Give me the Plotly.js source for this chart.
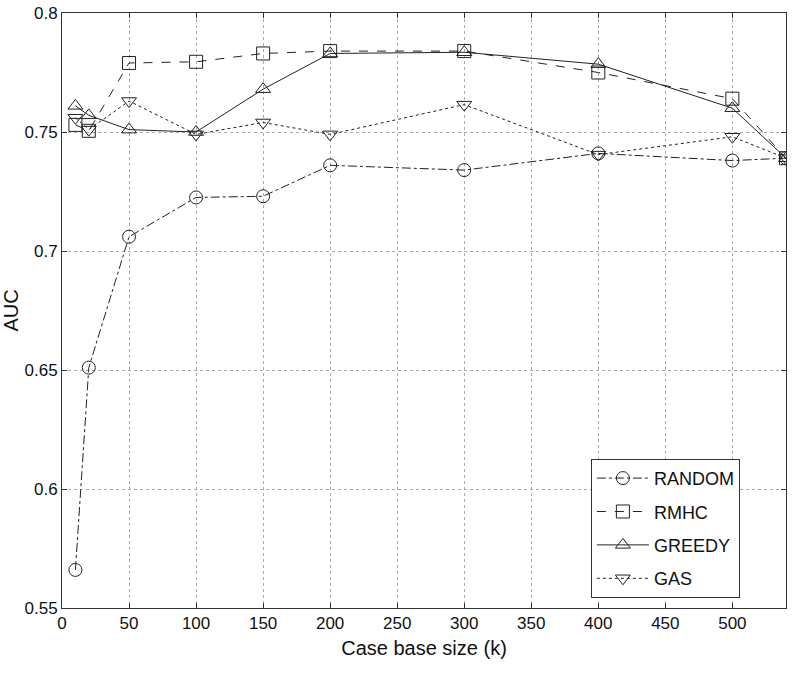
<!DOCTYPE html>
<html>
<head>
<meta charset="utf-8">
<script src="https://cdn.plot.ly/plotly-3.0.1.min.js"></script>
<style>html,body{margin:0;padding:0;background:#fff;}#chart{width:800px;height:673px;}</style>
</head>
<body>
<div id="chart"></div>
<script>
const caseBaseSize = [10, 20, 50, 100, 150, 200, 300, 400, 500, 540];
const randomAUC = [0.566, 0.651, 0.706, 0.7225, 0.723, 0.736, 0.734, 0.741, 0.738, 0.739];
const rmhcAUC   = [0.753, 0.7505, 0.779, 0.7795, 0.783, 0.784, 0.784, 0.775, 0.764, 0.739];
const greedyAUC = [0.761, 0.757, 0.751, 0.750, 0.768, 0.783, 0.7835, 0.7785, 0.760, 0.739];
const gasAUC    = [0.756, 0.751, 0.763, 0.749, 0.754, 0.749, 0.7615, 0.7405, 0.748, 0.739];
const seriesNames = ["RANDOM", "RMHC", "GREEDY", "GAS"];
const yTicks = [0.55, 0.6, 0.65, 0.7, 0.75, 0.8];
const yTickText = ["0.55", "0.6", "0.65", "0.7", "0.75", "0.8"];
const xTicks = [0, 50, 100, 150, 200, 250, 300, 350, 400, 450, 500];

const ink = "#222";
const fam = "Liberation Sans, Arial, sans-serif";
function mk(name, y, dash, sym) {
  return {
    x: caseBaseSize, y: y, name: name, type: "scatter", mode: "lines+markers",
    legendgroup: name,
    line: {color: ink, width: 1, dash: dash},
    marker: {symbol: sym, size: 13, color: ink, line: {width: 1, color: ink}}
  };
}
const data = [
  mk(seriesNames[0], randomAUC, "dashdot", "circle-open"),
  mk(seriesNames[1], rmhcAUC, "dash", "square-open"),
  mk(seriesNames[2], greedyAUC, "solid", "triangle-up-open"),
  mk(seriesNames[3], gasAUC, "dot", "triangle-down-open")
];
const axisCommon = {
  showline: true, linecolor: "#333", linewidth: 1, mirror: "ticks",
  ticks: "inside", ticklen: 5, tickcolor: "#333",
  showgrid: true, gridcolor: "#aaa", griddash: "dot", gridwidth: 1,
  zeroline: false, tickfont: {family: fam, size: 17, color: "#111"}
};
const layout = {
  width: 800, height: 673,
  margin: {l: 62, r: 14, t: 13, b: 65},
  paper_bgcolor: "#fff", plot_bgcolor: "#fff",
  font: {family: fam, color: "#111"},
  showlegend: true,
  xaxis: Object.assign({}, axisCommon, {
    range: [0, 540], tickvals: xTicks, ticktext: xTicks.map(String),
    title: {text: "Case base size (k)", font: {size: 20}, standoff: 8}
  }),
  yaxis: Object.assign({}, axisCommon, {
    range: [0.55, 0.8], tickvals: yTicks, ticktext: yTickText,
    title: {text: "AUC", font: {size: 20}, standoff: 3}
  }),
  legend: {
    x: 0.7305, xanchor: "left", y: 0.017, yanchor: "bottom",
    bgcolor: "#fff", bordercolor: "#333", borderwidth: 1,
    font: {size: 18, color: "#111"}, tracegroupgap: 7,
    itemwidth: 52, entrywidth: 174, entrywidthmode: "pixels"
  }
};
Plotly.newPlot("chart", data, layout, {displayModeBar: false, staticPlot: true});
</script>
</body>
</html>
